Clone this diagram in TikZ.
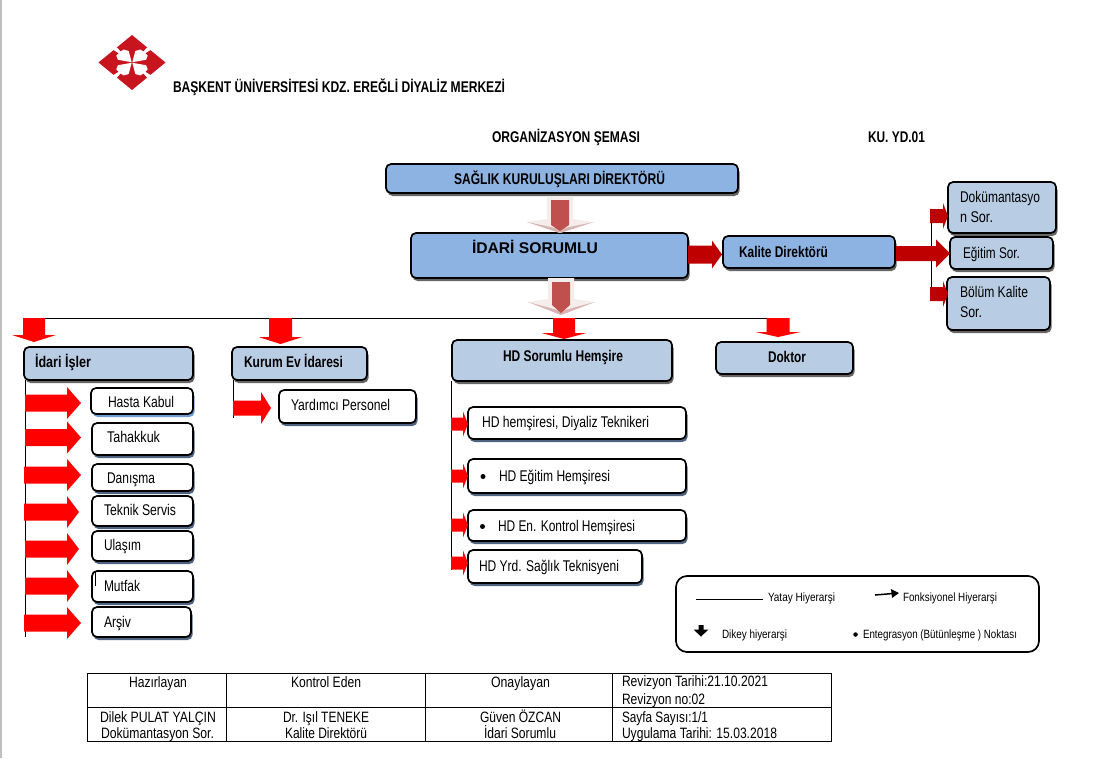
\documentclass[tikz,border=0pt]{standalone}
\usepackage{graphicx}
\usepackage{fontspec}
\setmainfont{Liberation Sans}
\usetikzlibrary{shadows}
\definecolor{boxdark}{HTML}{8DB3E2}
\definecolor{boxlight}{HTML}{B8CCE4}
\definecolor{darkred}{HTML}{BE0000}
\definecolor{softred}{HTML}{C0504D}
\definecolor{softrim}{HTML}{F4EDEC}
\definecolor{softedge}{HTML}{D8B4B2}
\definecolor{logored}{HTML}{C8141E}
\definecolor{blueshadow}{HTML}{6F9BD0}
\definecolor{slateshadow}{HTML}{4F6480}
\newcommand{\tl}[2]{\resizebox{#1pt}{\height}{#2}}
\tikzset{
  x=1pt,y=-1pt,
  boxbase/.style={draw=black,line width=1.7pt,rounded corners=5pt,inner sep=0pt,outer sep=0pt,font=\fontsize{15.5}{17}\selectfont},
  darkbox/.style={boxbase,fill=boxdark,general shadow={shadow xshift=1.5pt,shadow yshift=-3pt,fill=black!60}},
  lightbox/.style={boxbase,fill=boxlight,general shadow={shadow xshift=1.5pt,shadow yshift=-3pt,fill=black!60}},
  whitebox/.style={boxbase,fill=white,general shadow={shadow xshift=1.5pt,shadow yshift=-3pt,fill=slateshadow}},
  whiteblue/.style={boxbase,fill=white,general shadow={shadow xshift=1.5pt,shadow yshift=-3pt,fill=blueshadow}},
  legendbox/.style={draw=black,line width=1.7pt,rounded corners=11pt,inner sep=0pt,outer sep=0pt,fill=white},
  tabletext/.style={anchor=base west,inner sep=0pt,outer sep=0pt,font=\fontsize{15}{17}\selectfont},
  headtext/.style={tabletext,font=\bfseries\fontsize{15.5}{17}\selectfont},
  legendtext/.style={tabletext,font=\fontsize{12}{14}\selectfont},
  dotmark/.style={circle,fill=black,inner sep=0pt,outer sep=0pt,minimum size=5pt},
  thin line/.style={draw=black,line width=1pt}
}
% name, x1,y1,x2,y2, style ; then text x, baseline, text
\newcommand{\bx}[9]{%
  \pgfmathsetmacro{\cxx}{(#2+#4)/2}\pgfmathsetmacro{\cyy}{(#3+#5)/2}%
  \pgfmathsetmacro{\ww}{#4-#2}\pgfmathsetmacro{\hh}{#5-#3}%
  \pgfmathsetmacro{\ddx}{#7-\cxx}\pgfmathsetmacro{\ddy}{\cyy-#8}%
  \node[#6,minimum width=\ww pt,minimum height=\hh pt] (#1) at (\cxx,\cyy)
    {\makebox[0pt][l]{\hspace*{\ddx pt}\raisebox{\ddy pt}[0pt][0pt]{\parbox[t]{200pt}{\baselineskip=20pt #9}}}};%
}
\newcommand{\tx}[6][tabletext]{\node[#1] (#2) at (#3,#4) {\tl{#5}{#6}};}
% horizontal block arrow: x0, head start, tip, centre y, shaft half, head half, colour
\newcommand{\harrow}[7]{\fill[#7] (#1,#4-#5) -- (#2,#4-#5) -- (#2,#4-#6) -- (#3,#4) -- (#2,#4+#6) -- (#2,#4+#5) -- (#1,#4+#5) -- cycle;}
% vertical block arrow: y0, head start, tip, centre x, shaft half, head half
\newcommand{\varrow}[6]{\fill[red] (#4-#5,#1) -- (#4-#5,#2) -- (#4-#6,#2) -- (#4,#3) -- (#4+#6,#2) -- (#4+#5,#2) -- (#4+#5,#1) -- cycle;}
% soft vertical arrow: top, wing y, tip, centre x
\newcommand{\softarrow}[4]{%
  \fill[softrim,draw=none] (#4-13,#1) -- (#4+13,#1) -- (#4+13,#2-3) -- (#4+34,#2) -- (#4,#3) -- (#4-33,#2) -- (#4-13,#2-3) -- cycle;
  \fill[softedge] (#4-33,#2) -- (#4,#3) -- (#4+34,#2) -- (#4,#3-4) -- cycle;
  \fill[softred] (#4-9,#1+4) -- (#4+9,#1+4) -- (#4+9,#2+3) -- (#4,#3-2) -- (#4-9,#2+3) -- cycle;}
\begin{document}
\begin{tikzpicture}
\useasboundingbox (0,0) rectangle (1094,758);
\fill[white] (0,0) rectangle (1094,758);
\fill[black!25] (0,0) rectangle (1.5,758);
% logo
\begin{scope}[shift={(132,62.5)},x=33.5pt,y=27.5pt]
  \fill[logored] (-1,0) -- (0,1) -- (1,0) -- (0,-1) -- cycle;
  \foreach \sx/\sy in {1/1,1/-1,-1/1,-1/-1}{
    \begin{scope}[xscale=\sx,yscale=\sy]
      \fill[white] (0.01,0.01) -- (0.10,0.42) -- (0.25,0.47) -- (0.34,0.40) -- (0.46,0.56) -- (0.56,0.46) -- (0.40,0.34) -- (0.47,0.25) -- (0.42,0.10) -- cycle;
    \end{scope}
  }
\end{scope}
% headings
\tx[headtext]{tuni}{173}{92}{332}{BAŞKENT ÜNİVERSİTESİ KDZ. EREĞLİ DİYALİZ MERKEZİ}
\tx[headtext]{torg}{492}{142}{148}{ORGANİZASYON ŞEMASI}
\tx[headtext]{tku}{868}{142}{57}{KU. YD.01}
% boxes
\bx{sagl}{386}{164}{738}{193}{darkbox}{454}{184}{\textbf{\tl{211}{SAĞLIK KURULUŞLARI DİREKTÖRÜ}}}
\bx{idari}{411}{233}{688}{278}{darkbox}{472}{253}{\textbf{\tl{126}{İDARİ SORUMLU}}}
\bx{kalite}{723}{236}{895}{268}{darkbox}{739}{257}{\textbf{\tl{89}{Kalite Direktörü}}}
\bx{dok}{948}{182}{1056}{233}{lightbox}{960}{202}{\tl{80}{Dokümantasyo}\\\tl{33}{n Sor.}}
\bx{egt}{950}{237}{1053}{269}{lightbox}{963}{258}{\tl{57}{Eğitim Sor.}}
\bx{bol}{947}{277}{1050}{330}{lightbox}{960}{297}{\tl{68}{Bölüm Kalite}\\\tl{22}{Sor.}}
\bx{isl}{24}{347}{193}{380}{lightbox}{35}{367}{\textbf{\tl{56}{İdari İşler}}}
\bx{kurum}{232}{347}{367}{380}{lightbox}{244}{367}{\textbf{\tl{99}{Kurum Ev İdaresi}}}
\bx{hds}{452}{340}{672}{381}{lightbox}{503}{361}{\textbf{\tl{120}{HD Sorumlu Hemşire}}}
\bx{dr}{716}{342}{853}{374}{lightbox}{768}{362}{\textbf{\tl{38}{Doktor}}}
\bx{hk}{91}{388}{193}{414}{whiteblue}{108}{407}{\tl{66}{Hasta Kabul}}
\bx{tah}{92}{423}{193}{455}{whitebox}{107}{442}{\tl{53}{Tahakkuk}}
\bx{dan}{92}{464}{193}{491}{whitebox}{107}{483}{\tl{48}{Danışma}}
\bx{tek}{92}{496}{193}{526}{whitebox}{104}{515}{\tl{72}{Teknik Servis}}
\bx{ula}{92}{531}{193}{561}{whitebox}{104}{550}{\tl{37}{Ulaşım}}
\bx{mut}{92}{571}{193}{602}{whitebox}{104}{591}{\tl{36}{Mutfak}}
\bx{ars}{92}{607}{191}{637}{whitebox}{104}{627}{\tl{27}{Arşiv}}
\bx{yrd}{279}{390}{416}{423}{whitebox}{291}{410}{\tl{99}{Yardımcı Personel}}
\bx{hem}{468}{407}{686}{439}{whitebox}{482}{427}{\tl{167}{HD hemşiresi, Diyaliz Teknikeri}}
\bx{egh}{468}{459}{686}{493}{whitebox}{499}{481}{\tl{111}{HD Eğitim Hemşiresi}}
\bx{enk}{468}{510}{686}{541}{whitebox}{498}{531}{\tl{137}{HD En. Kontrol Hemşiresi}}
\bx{yrs}{468}{550}{642}{583}{whitebox}{479}{571}{\tl{140}{HD Yrd. Sağlık Teknisyeni}}
\node[dotmark] (bula) at (483,476.5) {};
\node[dotmark] (bulb) at (482.5,526.5) {};
\draw[black,line width=0.8pt] (95,571) -- (95,586);
% connector lines
\coordinate (hl) at (30,318);
\coordinate (hr) at (778,318);
\draw[thin line] (hl) -- (hr);
\draw[thin line] (isl.south west) ++(1,0) -- (25,637);
\draw[thin line] (kurum.south west) ++(1,0) -- (233,418);
\draw[thin line] (hds.south west) ++(-1,0) -- (451,570);
\coordinate (qt) at (931,216);
\coordinate (qb) at (931,294);
\draw[thin line] (qt) -- (qb);
% soft arrows
\softarrow{196}{222}{233}{560}
\softarrow{278}{302}{315}{561}
\draw[thin line] (hl) -- (hr);
% red arrows
\harrow{688}{712}{722}{254.5}{9}{14}{darkred}
\harrow{896}{936}{950}{253.5}{7.5}{14}{darkred}
\harrow{930}{943}{948}{216}{7}{13}{darkred}
\harrow{930}{943}{948}{294}{7}{13}{darkred}
\varrow{318}{335}{342}{34}{11}{22}
\varrow{318}{337}{344}{280.5}{11.5}{22}
\varrow{318}{333}{339}{564}{11}{22.5}
\varrow{318}{332}{337}{778}{11.5}{22.5}
\harrow{25}{67}{81}{403}{8.5}{16}{red}
\harrow{25}{67}{81}{437.5}{8.5}{16}{red}
\harrow{24}{67}{81}{475}{8.5}{16}{red}
\harrow{24}{67}{79}{512}{8.5}{16}{red}
\harrow{25}{67}{79}{549}{8.5}{16}{red}
\harrow{25}{67}{79}{586}{8.5}{16}{red}
\harrow{24}{67}{81}{623}{8.5}{16}{red}
\harrow{233}{261}{271}{408}{7.5}{16}{red}
\harrow{451}{463}{468}{424}{6.5}{12.5}{red}
\harrow{451}{463}{468}{476}{6.5}{12.5}{red}
\harrow{451}{463}{468}{525}{6.5}{12.5}{red}
\harrow{451}{463}{468}{563}{6.5}{12.5}{red}
% legend
\node[legendbox,minimum width=363pt,minimum height=76pt] (leg) at (857.5,614) {};
\coordinate (l1a) at (696,599);
\coordinate (l1b) at (763,599);
\draw[black,line width=0.8pt] (l1a) -- (l1b);
\tx[legendtext]{lya}{768}{601}{67}{Yatay Hiyerarşi}
\coordinate (l2a) at (875,595);
\coordinate (l2b) at (893,593.5);
\draw[black,line width=1.5pt] (l2a) -- (l2b);
\fill[black] (899,593) -- (891,589) -- (892,598) -- cycle;
\tx[legendtext]{lfo}{903}{601}{94}{Fonksiyonel Hiyerarşi}
\fill[black] (698.5,625) -- (703.5,625) -- (703.5,629.5) -- (708.5,629.5) -- (701,636.5) -- (693.5,629.5) -- (698.5,629.5) -- cycle;
\tx[legendtext]{ldi}{722}{638}{65}{Dikey hiyerarşi}
\node[dotmark,minimum size=4.5pt] (lbu) at (855.5,634.5) {};
\tx[legendtext]{len}{863}{638}{154}{Entegrasyon (Bütünleşme ) Noktası}
% table
\draw[black,line width=0.9pt] (87,673) rectangle (831,741);
\coordinate (t1) at (87,707.5);\coordinate (t2) at (831,707.5);
\draw[black,line width=0.9pt] (t1) -- (t2);
\foreach \vx in {226.5,425.5,612.5}{\draw[black,line width=0.9pt] (\vx,673) -- (\vx,741);}
\tx{c1}{129}{687}{58}{Hazırlayan}
\tx{c2}{291}{687}{70}{Kontrol Eden}
\tx{c3}{491}{687}{59}{Onaylayan}
\tx{c4}{622}{686}{146}{Revizyon Tarihi:21.10.2021}
\tx{c5}{622}{704}{83}{Revizyon no:02}
\tx{c6}{100}{722}{116}{Dilek PULAT YALÇIN}
\tx{c7}{101}{738}{113}{Dokümantasyon Sor.}
\tx{c8}{283}{722}{86}{Dr. Işıl TENEKE}
\tx{c9}{285}{738}{82}{Kalite Direktörü}
\tx{c10}{480}{722}{81}{Güven ÖZCAN}
\tx{c11}{484}{738}{72}{İdari Sorumlu}
\tx{c12}{622}{722}{86}{Sayfa Sayısı:1/1}
\tx{c13}{622}{738}{155}{Uygulama Tarihi: 15.03.2018}
\end{tikzpicture}
\end{document}
